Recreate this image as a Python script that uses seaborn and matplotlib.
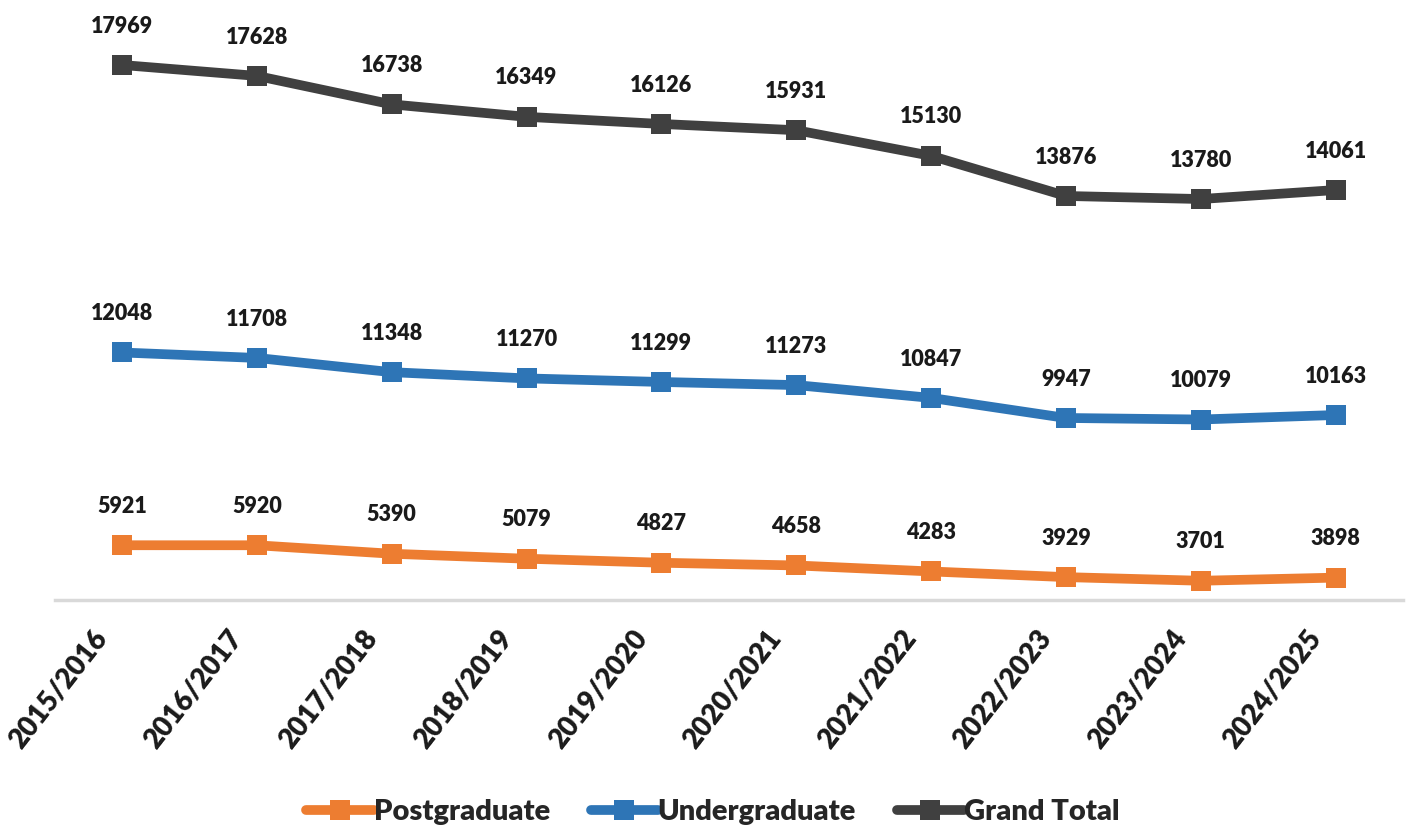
"""Stacked enrolment trend: postgraduate, undergraduate and grand total."""

import matplotlib.pyplot as plt
import matplotlib.transforms as mtransforms
import numpy as np
import pandas as pd
import seaborn as sns

YEARS = [
    "2015/2016", "2016/2017", "2017/2018", "2018/2019", "2019/2020",
    "2020/2021", "2021/2022", "2022/2023", "2023/2024", "2024/2025",
]
POSTGRADUATE = [5921, 5920, 5390, 5079, 4827, 4658, 4283, 3929, 3701, 3898]
UNDERGRADUATE = [12048, 11708, 11348, 11270, 11299, 11273, 10847, 9947, 10079, 10163]
GRAND_TOTAL = [17969, 17628, 16738, 16349, 16126, 15931, 15130, 13876, 13780, 14061]

SERIES = ["Postgraduate", "Undergraduate", "Grand Total"]
COLORS = ["#ED7D31", "#2E75B6", "#404040"]


def build_frame() -> pd.DataFrame:
    """Excel-style stacked line: each series sits on top of the previous ones."""
    raw = np.array([POSTGRADUATE, UNDERGRADUATE, GRAND_TOTAL])
    stacked = raw.cumsum(axis=0)
    rows = []
    for i, name in enumerate(SERIES):
        for j, year in enumerate(YEARS):
            rows.append({"year": year, "series": name,
                         "value": raw[i, j], "stacked": stacked[i, j]})
    return pd.DataFrame(rows)


def main() -> None:
    sns.set_theme(style="white")
    plt.rcParams["font.family"] = ["Lato", "DejaVu Sans"]

    df = build_frame()
    fig = plt.figure(figsize=(14.11, 8.34), dpi=100)
    ax = fig.add_axes([0.0387, 0.2806, 0.9556, 0.7194])

    sns.lineplot(
        data=df, x="year", y="stacked", hue="series", style="series",
        palette=COLORS, markers=["s", "s", "s"], dashes=False, sort=False,
        linewidth=7, markersize=14, markeredgewidth=0, ax=ax, legend=True,
    )

    for _, row in df.iterrows():
        ax.annotate(
            f"{row['value']}", (YEARS.index(row["year"]), row["stacked"]),
            xytext=(0, 28), textcoords="offset points", ha="center",
            va="center", fontsize=15.5, fontweight="heavy", color="#1a1a1a",
        )

    ax.set_xlim(-0.5, len(YEARS) - 0.5)
    ax.set_ylim(2500, 40000)
    ax.set_xlabel("")
    ax.set_ylabel("")
    ax.set_yticks([])
    ax.tick_params(axis="x", length=0, pad=18)
    shift = mtransforms.ScaledTranslation(-30 / 100, 0, fig.dpi_scale_trans)
    for lbl in ax.get_xticklabels():
        lbl.set_transform(lbl.get_transform() + shift)
    plt.setp(ax.get_xticklabels(), rotation=52, ha="right",
             rotation_mode="anchor", fontsize=20, fontweight="heavy",
             color="#1a1a1a")
    for side in ["top", "right", "left"]:
        ax.spines[side].set_visible(False)
    ax.spines["bottom"].set_color("#D9D9D9")
    ax.spines["bottom"].set_linewidth(2.5)

    handles, labels = ax.get_legend_handles_labels()
    ax.get_legend().remove()
    fig.legend(
        handles, labels, loc="center", bbox_to_anchor=(713 / 1411, 1 - 812 / 834),
        ncol=3, frameon=False, handlelength=2.3, columnspacing=1.4,
        handletextpad=0.0, prop={"size": 21, "weight": "heavy"},
    )

    fig.savefig("out.png", dpi=100)
    plt.close(fig)


if __name__ == "__main__":
    main()
